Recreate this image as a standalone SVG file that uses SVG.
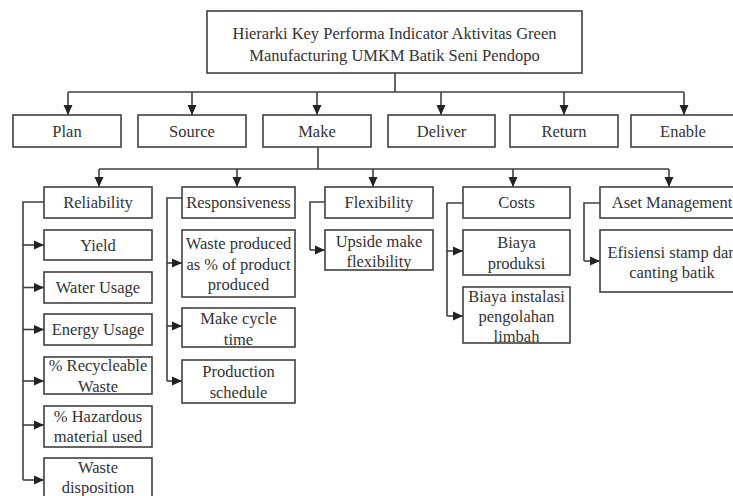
<svg xmlns="http://www.w3.org/2000/svg" width="733" height="496" viewBox="0 0 733 496">
<defs>
<style>
.box{fill:#fff;stroke:#404040;stroke-width:1.6}
.t{font-family:"Liberation Serif","Times New Roman",serif;font-size:16.5px;fill:#333;text-anchor:middle}
.c{fill:none;stroke:#404040;stroke-width:1.6}
</style>
<marker id="ah" viewBox="0 0 10 10" refX="10" refY="5" markerWidth="10" markerHeight="10" markerUnits="userSpaceOnUse" orient="auto">
<path d="M0,0.5 L10,5 L0,9.5 z" fill="#222"/>
</marker>
</defs>
<rect width="733" height="496" fill="#fff"/>

<g id="connectors">
<path class="c" d="M395,73 V92 M68,92 H684"/>
<path class="c" marker-end="url(#ah)" d="M68,92 V115"/>
<path class="c" marker-end="url(#ah)" d="M192,92 V115"/>
<path class="c" marker-end="url(#ah)" d="M317,92 V115"/>
<path class="c" marker-end="url(#ah)" d="M441,92 V115"/>
<path class="c" marker-end="url(#ah)" d="M564,92 V115"/>
<path class="c" marker-end="url(#ah)" d="M684,92 V115"/>

<path class="c" d="M318,147 V169 M99,169 H669"/>
<path class="c" marker-end="url(#ah)" d="M99,169 V187"/>
<path class="c" marker-end="url(#ah)" d="M237,169 V187"/>
<path class="c" marker-end="url(#ah)" d="M373,169 V187"/>
<path class="c" marker-end="url(#ah)" d="M513,169 V187"/>
<path class="c" marker-end="url(#ah)" d="M669,169 V187"/>

<path class="c" d="M44,202 H23 V480"/>
<path class="c" marker-end="url(#ah)" d="M23,245 H44"/>
<path class="c" marker-end="url(#ah)" d="M23,287.5 H44"/>
<path class="c" marker-end="url(#ah)" d="M23,329.5 H44"/>
<path class="c" marker-end="url(#ah)" d="M23,381 H44"/>
<path class="c" marker-end="url(#ah)" d="M23,425 H44"/>
<path class="c" marker-end="url(#ah)" d="M23,480 H44"/>

<path class="c" d="M182,198 H167 V381"/>
<path class="c" marker-end="url(#ah)" d="M167,263 H182"/>
<path class="c" marker-end="url(#ah)" d="M167,326 H182"/>
<path class="c" marker-end="url(#ah)" d="M167,381 H182"/>

<path class="c" d="M325,202 H310 V250"/>
<path class="c" marker-end="url(#ah)" d="M310,250 H325"/>

<path class="c" d="M463,203 H447 V316"/>
<path class="c" marker-end="url(#ah)" d="M447,251 H463"/>
<path class="c" marker-end="url(#ah)" d="M447,316 H463"/>

<path class="c" d="M600,203 H584 V261"/>
<path class="c" marker-end="url(#ah)" d="M584,261 H600"/>
</g>

<g id="root"><rect class="box" x="207" y="11" width="375" height="62"/>
<text class="t" x="394.5" y="39">Hierarki Key Performa Indicator Aktivitas Green</text>
<text class="t" x="394.5" y="61">Manufacturing UMKM Batik Seni Pendopo</text></g>

<g id="plan"><rect class="box" x="13" y="115" width="108" height="32"/><text class="t" x="67" y="137">Plan</text></g>
<g id="source"><rect class="box" x="138" y="115" width="108" height="32"/><text class="t" x="192" y="137">Source</text></g>
<g id="make"><rect class="box" x="263" y="115" width="108" height="32"/><text class="t" x="317" y="137">Make</text></g>
<g id="deliver"><rect class="box" x="388" y="115" width="107" height="32"/><text class="t" x="441.5" y="137">Deliver</text></g>
<g id="return"><rect class="box" x="510" y="115" width="108" height="32"/><text class="t" x="564" y="137">Return</text></g>
<g id="enable"><rect class="box" x="631" y="115" width="104" height="32"/><text class="t" x="683" y="137">Enable</text></g>

<g id="reliability"><rect class="box" x="44" y="187" width="108" height="31"/><text class="t" x="98" y="208">Reliability</text></g>
<g id="responsiveness"><rect class="box" x="182" y="187" width="113" height="31"/><text class="t" x="238.5" y="208">Responsiveness</text></g>
<g id="flexibility"><rect class="box" x="325" y="187" width="108" height="31"/><text class="t" x="379" y="208">Flexibility</text></g>
<g id="costs"><rect class="box" x="463" y="187" width="107" height="31"/><text class="t" x="516.5" y="208">Costs</text></g>
<g id="aset"><rect class="box" x="600" y="187" width="144" height="31"/><text class="t" x="672" y="208">Aset Management</text></g>

<g id="yield"><rect class="box" x="44" y="230" width="108" height="30"/><text class="t" x="98" y="251">Yield</text></g>
<g id="water"><rect class="box" x="44" y="272" width="108" height="31"/><text class="t" x="98" y="293">Water Usage</text></g>
<g id="energy"><rect class="box" x="44" y="314" width="108" height="31"/><text class="t" x="98" y="335">Energy Usage</text></g>
<g id="recycle"><rect class="box" x="44" y="357" width="108" height="37"/><text class="t" x="98" y="371">% Recycleable</text><text class="t" x="98" y="392">Waste</text></g>
<g id="hazard"><rect class="box" x="44" y="406" width="108" height="41"/><text class="t" x="98" y="422">% Hazardous</text><text class="t" x="98" y="442">material used</text></g>
<g id="wastedisp"><rect class="box" x="44" y="458" width="108" height="45"/><text class="t" x="98" y="473">Waste</text><text class="t" x="98" y="493">disposition</text></g>

<g id="wasteprod"><rect class="box" x="182" y="230" width="113" height="67"/><text class="t" x="238.5" y="249">Waste produced</text><text class="t" x="238.5" y="270">as % of product</text><text class="t" x="238.5" y="290">produced</text></g>
<g id="makecycle"><rect class="box" x="182" y="308" width="113" height="39"/><text class="t" x="238.5" y="324">Make cycle</text><text class="t" x="238.5" y="345">time</text></g>
<g id="prodsched"><rect class="box" x="182" y="360" width="113" height="43"/><text class="t" x="238.5" y="377">Production</text><text class="t" x="238.5" y="398">schedule</text></g>

<g id="upside"><rect class="box" x="325" y="230" width="108" height="40"/><text class="t" x="379" y="247">Upside make</text><text class="t" x="379" y="267">flexibility</text></g>

<g id="biayaprod"><rect class="box" x="463" y="230" width="107" height="45"/><text class="t" x="516.5" y="248">Biaya</text><text class="t" x="516.5" y="269">produksi</text></g>
<g id="biayainst"><rect class="box" x="463" y="287" width="107" height="56"/><text class="t" x="516.5" y="302">Biaya instalasi</text><text class="t" x="516.5" y="322">pengolahan</text><text class="t" x="516.5" y="342">limbah</text></g>

<g id="efisiensi"><rect class="box" x="600" y="230" width="144" height="62"/><text class="t" x="672" y="258">Efisiensi stamp dan</text><text class="t" x="672" y="278">canting batik</text></g>
</svg>
